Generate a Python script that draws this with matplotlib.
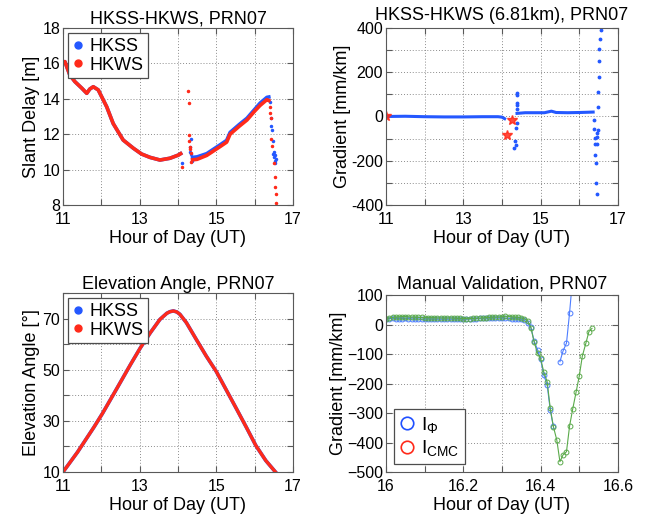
import numpy as np
import matplotlib
matplotlib.use("Agg")
import matplotlib.pyplot as plt
from matplotlib.lines import Line2D
from matplotlib.ticker import MultipleLocator, FuncFormatter

plt.rcParams["font.family"] = ["Liberation Sans", "DejaVu Sans"]
plt.rcParams["mathtext.fontset"] = "custom"
plt.rcParams["mathtext.rm"] = "Liberation Sans"
plt.rcParams["mathtext.it"] = "Liberation Sans:italic"

# ---- slant delay (top left) ----
sd_t1 = [11.00, 11.05, 11.10, 11.18, 11.31, 11.49, 11.62, 11.70, 11.79, 11.92,
         12.14, 12.31, 12.57, 12.84, 13.05, 13.27, 13.53, 13.79, 14.01, 14.07]
sd_hkss1 = [16.0, 16.1, 15.8, 15.34, 14.97, 14.6, 14.31, 14.55, 14.68, 14.5,
            13.55, 12.6, 11.67, 11.2, 10.88, 10.69, 10.54, 10.64, 10.82, 10.9]
sd_hkws1 = [16.0, 16.1, 15.8, 15.34, 14.97, 14.6, 14.31, 14.55, 14.68, 14.5,
            13.55, 12.6, 11.67, 11.2, 10.88, 10.69, 10.54, 10.64, 10.82, 10.9]

sd_t2 = [14.38, 14.50, 14.75, 15.10, 15.27, 15.36, 15.60, 15.80, 16.00, 16.14, 16.32, 16.37]
sd_hkss2 = [10.69, 10.72, 10.90, 11.40, 11.65, 12.10, 12.55, 12.90, 13.40, 13.75, 14.08, 14.10]
sd_hkws2 = [10.55, 10.58, 10.80, 11.30, 11.55, 12.00, 12.45, 12.80, 13.30, 13.62, 13.95, 13.90]

sd_hkss_sc_t = [14.10, 14.31, 14.32, 14.33, 14.34, 14.36,
                16.40, 16.42, 16.43, 16.45, 16.47, 16.49, 16.50, 16.51, 16.52, 16.53, 16.54, 16.55]
sd_hkss_sc = [10.36, 11.0, 11.3, 11.7, 10.9, 10.5,
              13.8, 12.9, 12.45, 12.26, 11.6, 10.9, 10.7, 11.0, 10.5, 10.8, 10.35, 10.6]
sd_hkws_sc_t = [14.10, 14.27, 14.28, 14.29, 14.30, 14.31, 14.32, 14.33, 14.35,
                16.39, 16.40, 16.43, 16.44, 16.46, 16.50, 16.52, 16.53, 16.545, 16.56]
sd_hkws_sc = [10.17, 14.46, 13.74, 11.95, 11.6, 11.3, 11.15, 10.95, 10.45,
              13.55, 13.17, 12.9, 11.7, 11.35, 10.4, 9.6, 9.0, 8.6, 8.1]

# ---- gradient (top right) ----
gr_t1 = [11.0, 11.5, 12.0, 12.5, 13.0, 13.5, 13.9, 14.0, 14.07]
gr_1 = [0, 1, -1, -2, -2, -1, -1, -3, -10]
gr_t2 = [14.39, 14.6, 14.9, 15.1, 15.28, 15.4, 15.7, 16.0, 16.2, 16.36]
gr_2 = [14, 17, 17, 17, 24, 18, 17, 18, 19, 20]
gr_sc_t = [14.31, 14.34, 14.36, 14.37, 14.38, 14.38, 14.39, 14.39, 14.40, 14.40,
           16.37, 16.39, 16.40, 16.41, 16.42, 16.43, 16.44, 16.45,
           16.46, 16.465, 16.47, 16.475, 16.48, 16.49, 16.50, 16.51, 16.52, 16.535, 16.55]
gr_sc = [-142, -109, -127, -51, -28, 53, 108, 96, 62, 32,
         -14, -56, -97, -125, -174, -212, -300, -349,
         -125, -93, -74, -62, 43, 112, 180, 250, 305, 350, 392]
gr_star_t = [11.0, 14.14, 14.25]
gr_star = [0, -82, -14]

# ---- elevation (bottom left) ----
el_t = [11.0, 11.38, 11.81, 12.03, 12.41, 12.76, 13.02, 13.28, 13.53, 13.71,
        13.79, 13.88, 13.97, 14.05, 14.22, 14.48, 14.74, 15.0, 15.26, 15.52,
        15.78, 16.03, 16.29, 16.55]
el_deg = [10, 17.8, 27.6, 32.9, 42.8, 52.0, 58.6, 64.5, 69.7, 72.1,
          72.7, 73.0, 72.6, 71.7, 68.4, 61.8, 55.3, 49.3, 42.1, 34.9,
          27.6, 20.4, 14.5, 9.9]

# ---- manual validation (bottom right), 30 s epochs ----
mv_t = [16.000, 16.008, 16.017, 16.025, 16.033, 16.042, 16.050, 16.058, 16.067, 16.075,
        16.083, 16.092, 16.100, 16.108, 16.117, 16.125, 16.133, 16.142, 16.150, 16.158,
        16.167, 16.175, 16.183, 16.192, 16.200, 16.208, 16.217, 16.225, 16.233, 16.242,
        16.250, 16.258, 16.267, 16.275, 16.283, 16.292, 16.300, 16.308, 16.317, 16.325,
        16.333, 16.342, 16.350, 16.358, 16.367, 16.375, 16.383, 16.392, 16.400, 16.408,
        16.417, 16.425, 16.433, 16.442, 16.450, 16.458, 16.467, 16.475, 16.483, 16.492,
        16.500, 16.508, 16.517, 16.525, 16.533]
mv_phi = [18, 20, 21, 20, 20, 20, 21, 20, 19, 19,
          19, 18, 18, 19, 18, 18, 18, 18, 18, 18,
          18, 18, 19, 19, 18, 18, 19, 20, 20, 21,
          21, 22, 22, 22, 22, 22, 22, 21, 21, 20,
          20, 19, 18, 14, 4, -10, -55, -85, -118, -170,
          -205, -290, -345, np.nan, -126, -90, -63, 40, 160]
mv_cmc = [20, 22, 24, 25, 26, 27, 27, 26, 25, 25,
          24, 24, 23, 23, 23, 23, 22, 22, 22, 22,
          22, 22, 21, 21, 20, 20, 20, 21, 21, 22,
          22, 23, 24, 25, 25, 25, 26, 28, 27, 26,
          25, 24, 22, 19, 12, -11, -58, -98, -115, -160,
          -194, -284, -346, -392, -465, -442, -431, -344, -287, -228,
          -175, -107, -64, -24, -13]

BLUE = "#2458ff"
RED = "#ff2a1a"
LBLUE = "#4d7dff"
GREEN = "#5aaa4a"


def style_axes(ax):
    ax.tick_params(direction="in", top=True, right=True, length=4,
                   labelsize=11.5, color="0.35")
    ax.tick_params(axis="x", pad=5)
    ax.tick_params(axis="y", pad=2)
    for s in ax.spines.values():
        s.set_color("0.35")
        s.set_linewidth(0.8)
    ax.grid(True, which="major", linestyle=(0, (1, 2)), color="0.55", linewidth=0.7)


def odd_label(keep):
    return FuncFormatter(lambda v, p: ("%g" % v) if round(v, 4) in keep else "")


def dot_legend(ax, loc):
    h = [Line2D([], [], marker="o", ls="", color=BLUE, ms=5),
         Line2D([], [], marker="o", ls="", color=RED, ms=5)]
    leg = ax.legend(h, ["HKSS", "HKWS"], loc=loc, fontsize=13, fancybox=False,
                    framealpha=1, edgecolor="0.3", handlelength=0.6,
                    handletextpad=0.3, borderpad=0.25, labelspacing=0.1,
                    borderaxespad=0.3)
    leg.get_frame().set_linewidth(0.9)


fig = plt.figure(figsize=(6.46, 5.17), dpi=100)
ax1 = fig.add_axes([0.0975, 0.6035, 0.356, 0.3424])
ax2 = fig.add_axes([0.5975, 0.6035, 0.359, 0.3424])
ax3 = fig.add_axes([0.0975, 0.0870, 0.356, 0.3462])
ax4 = fig.add_axes([0.5975, 0.0870, 0.359, 0.3424])

# top left
ax1.plot(sd_t1, sd_hkss1, "-", color=BLUE, lw=2.6)
ax1.plot(sd_t2, sd_hkss2, "-", color=BLUE, lw=2.6)
ax1.plot(sd_hkss_sc_t, sd_hkss_sc, ".", color=BLUE, ms=3)
ax1.plot(sd_t1, sd_hkws1, "-", color=RED, lw=2.6)
ax1.plot(sd_t2, sd_hkws2, "-", color=RED, lw=2.6)
ax1.plot(sd_hkws_sc_t, sd_hkws_sc, ".", color=RED, ms=3)
ax1.set_xlim(11, 17)
ax1.set_ylim(8, 18)
ax1.xaxis.set_major_locator(MultipleLocator(1))
ax1.xaxis.set_major_formatter(odd_label({11, 13, 15, 17}))
ax1.yaxis.set_major_locator(MultipleLocator(2))
ax1.set_title("HKSS-HKWS, PRN07", fontsize=13, pad=3)
ax1.set_xlabel("Hour of Day (UT)", fontsize=13, labelpad=2)
ax1.set_ylabel("Slant Delay [m]", fontsize=13, labelpad=2)
style_axes(ax1)
dot_legend(ax1, "upper left")

# top right
ax2.plot(gr_t1, gr_1, "-", color=BLUE, lw=2.2)
ax2.plot(gr_t2, gr_2, "-", color=BLUE, lw=2.2)
ax2.plot(gr_sc_t, gr_sc, ".", color=BLUE, ms=3.5)
ax2.plot(gr_star_t, gr_star, "*", color=RED, ms=7, alpha=0.85)
ax2.set_xlim(11, 17)
ax2.set_ylim(-400, 400)
ax2.xaxis.set_major_locator(MultipleLocator(1))
ax2.xaxis.set_major_formatter(odd_label({11, 13, 15, 17}))
ax2.yaxis.set_major_locator(MultipleLocator(100))
ax2.yaxis.set_major_formatter(odd_label({-400, -200, 0, 200, 400}))
ax2.set_title("HKSS-HKWS (6.81km), PRN07", fontsize=13, pad=6)
ax2.set_xlabel("Hour of Day (UT)", fontsize=13, labelpad=2)
ax2.set_ylabel("Gradient [mm/km]", fontsize=13, labelpad=0)
style_axes(ax2)

# bottom left
ax3.plot(el_t, el_deg, "-", color=BLUE, lw=2.6)
ax3.plot(el_t, el_deg, "-", color=RED, lw=2.4)
ax3.set_xlim(11, 17)
ax3.set_ylim(10, 80)
ax3.xaxis.set_major_locator(MultipleLocator(1))
ax3.xaxis.set_major_formatter(odd_label({11, 13, 15, 17}))
ax3.yaxis.set_major_locator(MultipleLocator(10))
ax3.yaxis.set_major_formatter(odd_label({10, 30, 50, 70}))
ax3.set_title("Elevation Angle, PRN07", fontsize=13, pad=3)
ax3.set_xlabel("Hour of Day (UT)", fontsize=13, labelpad=2)
ax3.set_ylabel("Elevation Angle [\u00b0]", fontsize=13, labelpad=2)
style_axes(ax3)
dot_legend(ax3, "upper left")

# bottom right
ax4.plot(mv_t[:len(mv_phi)], mv_phi, "-o", color=LBLUE, lw=0.8, ms=3.5,
         mfc="none", mew=0.7)
ax4.plot(mv_t, mv_cmc, "-o", color=GREEN, lw=0.8, ms=3.5, mfc="none", mew=0.7)
ax4.set_xlim(16, 16.6)
ax4.set_ylim(-500, 100)
ax4.xaxis.set_major_locator(MultipleLocator(0.1))
ax4.xaxis.set_major_formatter(odd_label({16.0, 16.2, 16.4, 16.6}))
ax4.yaxis.set_major_locator(MultipleLocator(100))
ax4.set_title("Manual Validation, PRN07", fontsize=13, pad=5)
ax4.set_xlabel("Hour of Day (UT)", fontsize=13, labelpad=2)
ax4.set_ylabel("Gradient [mm/km]", fontsize=13, labelpad=0)
style_axes(ax4)
h = [Line2D([], [], marker="o", ls="", color="#2050ff", ms=9, mfc="none", mew=1.2),
     Line2D([], [], marker="o", ls="", color=RED, ms=9, mfc="none", mew=1.2)]
leg = ax4.legend(h, [r"I$_\Phi$", r"I$_{\mathrm{CMC}}$"], loc="lower left",
                 fontsize=14, fancybox=False, framealpha=1, edgecolor="0.3",
                 handlelength=0.8, handletextpad=0.3, borderpad=0.3,
                 labelspacing=0.2, borderaxespad=0.4)
leg.get_frame().set_linewidth(0.9)

fig.savefig("out.png", dpi=100)
